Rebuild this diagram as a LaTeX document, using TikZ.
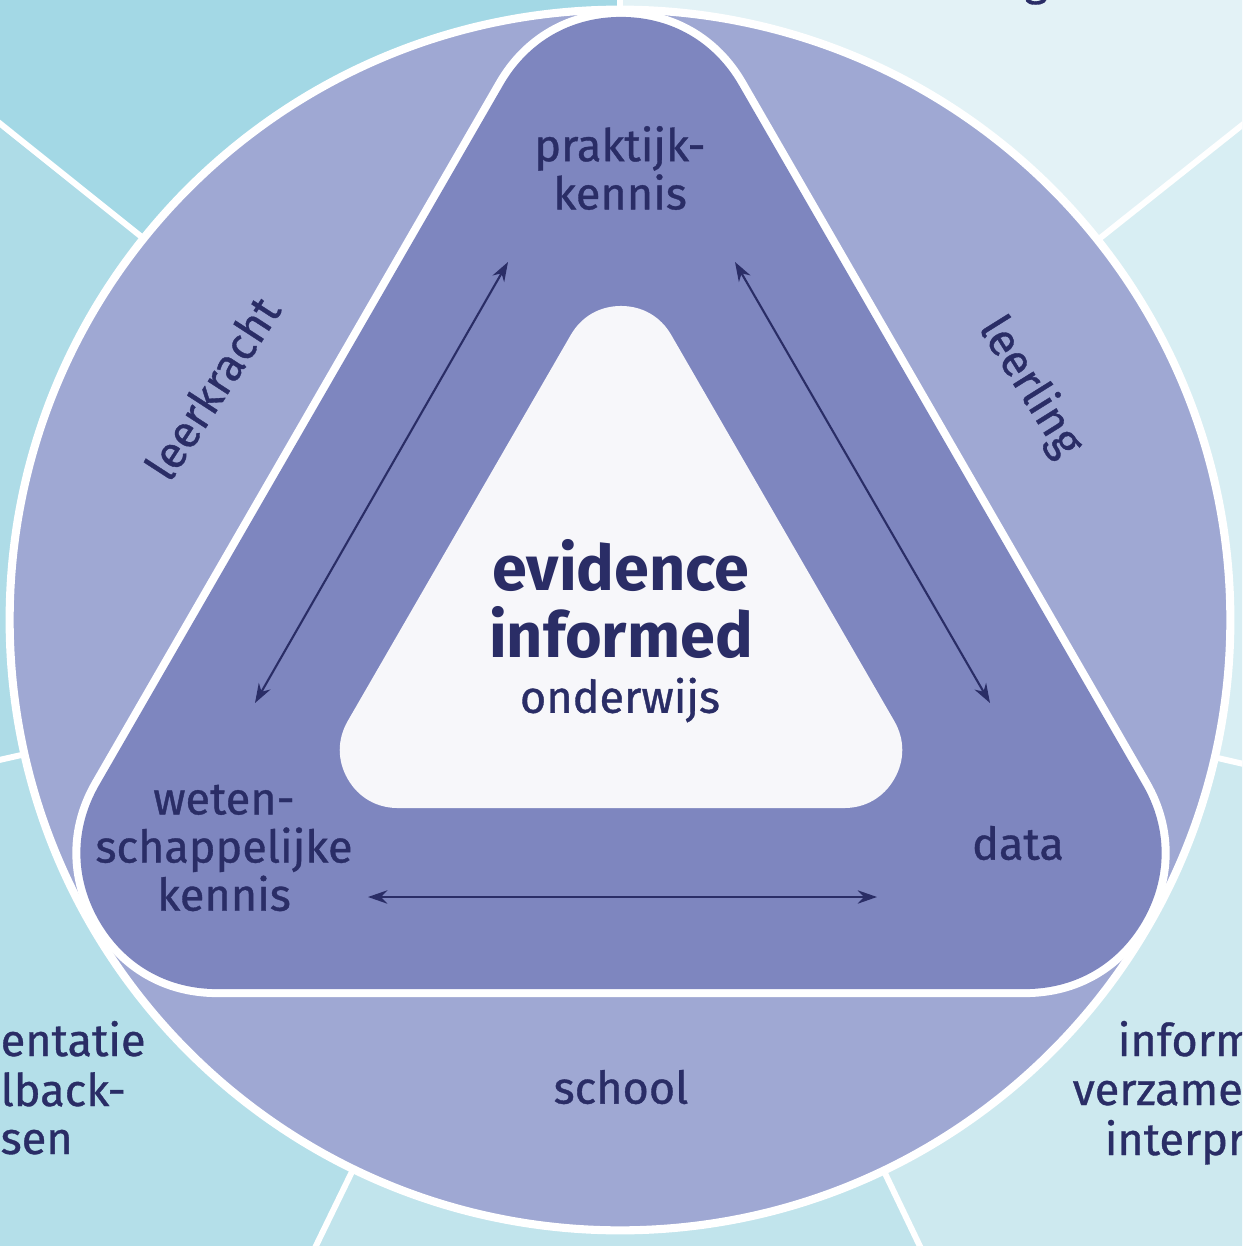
\documentclass[tikz,border=0pt]{standalone}
\usepackage{fontspec}
\setmainfont{Fira Sans}
\newfontfamily\medfont[FakeBold=0.8]{Fira Sans}
\usetikzlibrary{arrows.meta}
\definecolor{ring}{HTML}{9FA8D3}
\definecolor{tri}{HTML}{7E86BF}
\definecolor{inner}{HTML}{F7F7FA}
\definecolor{ink}{HTML}{2A2D66}
\definecolor{secA}{HTML}{A3D8E5}
\definecolor{secB}{HTML}{AEDCE7}
\definecolor{secC}{HTML}{B4DFE9}
\definecolor{secD}{HTML}{C1E4EC}
\definecolor{secE}{HTML}{CDE9EF}
\definecolor{secF}{HTML}{D8EEF3}
\definecolor{secG}{HTML}{E3F2F6}
\begin{document}
\begin{tikzpicture}[x=0.01cm,y=-0.01cm,
  lbl/.style={text=ink, font=\medfont\fontsize{12.8pt}{13.7pt}\selectfont, align=center, inner sep=0pt},
  big/.style={text=ink, font=\bfseries\fontsize{17.9pt}{19pt}\selectfont, align=center, inner sep=0pt},
  arr/.style={draw=ink, line width=0.6pt, {Stealth[length=5.5pt,width=3.8pt]}-{Stealth[length=5.5pt,width=3.8pt]}},
  ray/.style={draw=white, line width=1.7pt},
  whiteedge/.style={draw=white, line width=2.3pt}]
\useasboundingbox (0,0) rectangle (1242,1246);
\clip (0,0) rectangle (1242,1246);
% centre and far points of the sector rays
\coordinate (O) at (620,620);
\coordinate (P38) at (2185,-625);
\coordinate (P90) at (620,-1380);
\coordinate (P141) at (-941,-630);
\coordinate (P193) at (-1331,1060);
\coordinate (P244) at (-254,2419);
\coordinate (P296) at (1484,2424);
\coordinate (P347) at (2569,1070);
% background sectors
\fill[secA] (O) -- (P90) -- (P141) -- cycle;
\fill[secB] (O) -- (P141) -- (P193) -- cycle;
\fill[secC] (O) -- (P193) -- (P244) -- cycle;
\fill[secD] (O) -- (P244) -- (P296) -- cycle;
\fill[secE] (O) -- (P296) -- (P347) -- cycle;
\fill[secF] (O) -- (P347) -- (P38) -- cycle;
\fill[secG] (O) -- (P38) -- (P90) -- cycle;
\foreach \p in {P38,P90,P141,P193,P244,P296,P347} \draw[ray] (O) -- (\p);
% ring
\fill[ring] (O) circle[radius=6.1cm];
% triangle (rounded by a thick round-joined outline)
\coordinate (A) at (621,153);
\coordinate (B) at (217,853);
\coordinate (C) at (1025,853);
\begin{scope}
\clip (O) circle[radius=6.1cm];
\filldraw[white, line width=2.88cm, line join=round] (A) -- (B) -- (C) -- cycle;
\filldraw[tri, line width=2.72cm, line join=round] (A) -- (B) -- (C) -- cycle;
\end{scope}
\draw[whiteedge] (O) circle[radius=6.1cm];
% inner triangle
\coordinate (iA) at (621,364);
\coordinate (iB) at (398,750);
\coordinate (iC) at (844,750);
\filldraw[inner, line width=1.16cm, line join=round] (iA) -- (iB) -- (iC) -- cycle;
% arrows
\coordinate (lt) at (508,262);
\coordinate (lb) at (255,703);
\coordinate (rt) at (735,262);
\coordinate (rb) at (990,703);
\coordinate (bl) at (368,897);
\coordinate (br) at (877,897);
\draw[arr] (lt) -- (lb);
\draw[arr] (rt) -- (rb);
\draw[arr] (bl) -- (br);
% labels
\node[lbl] (prak) at (620,168) {praktijk-\\kennis};
\node[lbl] (weten) at (224,848) {weten-\\schappelijke\\kennis};
\node[lbl] (data) at (1018,843) {data};
\node[lbl] (school) at (621,1087) {school};
\node[lbl, rotate=57] (leerkracht) at (212,388) {leerkracht};
\node[lbl, rotate=-58] (leerling) at (1030,387) {leerling};
\node[big] (evi) at (621,599) {evidence\\informed};
\node[lbl] (ondw) at (620,700) {onderwijs};
% cut-off texts of the outer ring
\node[lbl, anchor=base west] (fragA) at (0,1056) {entatie};
\node[lbl, anchor=base west] (fragB) at (0,1106) {lback-};
\node[lbl, anchor=base west] (fragC) at (0,1154) {sen};
\node[lbl, anchor=base west] (fragD) at (1117,1056) {inform};
\node[lbl, anchor=base west] (fragE) at (1072,1105) {verzame};
\node[lbl, anchor=base west] (fragF) at (1104,1155) {interpr};
\node[lbl, anchor=base] (fragG) at (1036,-5) {g};
\end{tikzpicture}
\end{document}
